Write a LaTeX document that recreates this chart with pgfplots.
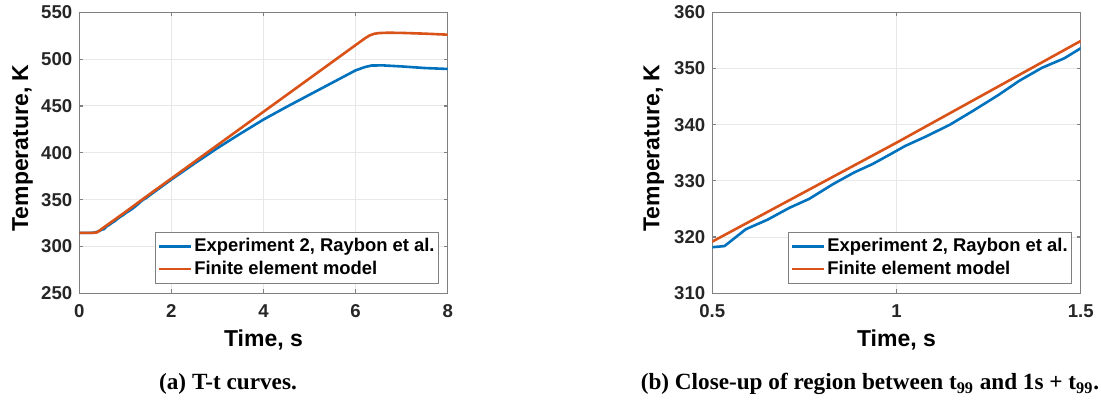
\documentclass[border=0pt]{standalone}
\usepackage{fontspec}
\setmainfont{Liberation Sans}
\newfontfamily\capfont{Liberation Serif}
\usepackage{pgfplots}
\usepackage{pgfplotstable}
\pgfplotsset{compat=1.18}

\definecolor{mblue}{RGB}{0,114,189}
\definecolor{morange}{RGB}{217,83,25}
\definecolor{axgray}{RGB}{128,128,128}
\definecolor{gridgray}{RGB}{232,232,232}
\definecolor{txt}{RGB}{38,38,38}

% experiment 2 (Raybon et al.)
\pgfplotstableread{
t T
0     314.5
0.25  314.5
0.32  314.8
0.40  315.8
0.46  317.2
0.50  318.2
0.533 318.4
0.591 321.4
0.650 323.1
0.709 325.2
0.763 326.8
0.827 329.4
0.885 331.5
0.935 333.0
0.985 334.8
1.023 336.2
1.080 337.9
1.145 340.0
1.211 342.6
1.277 345.3
1.333 347.8
1.394 350.1
1.455 351.8
1.500 353.6
2.0   371.5
2.5   388.5
3.0   405.0
3.5   420.5
4.0   435.5
4.5   449.0
5.0   462.0
5.5   475.0
6.0   488.0
6.2   491.5
6.35  493.2
6.6   493.3
7.0   492.2
7.5   490.5
8.0   489.5
}\expdata

% finite element model
\pgfplotstableread{
t T
0     314.5
0.30  314.5
0.38  315.0
0.45  317.3
0.50  319.2
1.0   336.8
1.5   354.9
2.0   372.6
3.0   408.2
4.0   443.8
5.0   479.4
6.0   515.0
6.2   522.1
6.3   525.2
6.4   527.0
6.5   527.8
6.7   528.2
7.0   528.0
7.5   527.2
8.0   526.1
}\femdata

\pgfplotsset{
  mstyle/.style={
    scale only axis,
    width=184.2pt,
    height=140.5pt,
    axis line style={axgray, line width=0.6pt},
    grid=major,
    grid style={gridgray, line width=0.5pt},
    tick style={axgray, line width=0.6pt},
    major tick length=2pt,
    tick align=inside,
    /pgf/number format/assume math mode=true,
    tick label style={font=\fontsize{9.3}{11}\selectfont\bfseries, text=txt},
    xticklabel style={yshift=-2pt},
    label style={font=\fontsize{11.5}{13}\selectfont\bfseries, text=black},
    xlabel style={at={(axis description cs:0.5,-0.166)}, anchor=center},
    xlabel={Time, s},
    ylabel={Temperature, K},
    legend cell align=left,
    legend style={at={(0.977,0.034)}, anchor=south east, draw=axgray, line width=0.6pt, fill=white,
      font=\fontsize{9.2}{11}\selectfont\bfseries, text=black,
      inner xsep=1pt, inner ysep=1.5pt, row sep=0pt,
      nodes={inner ysep=1.5pt, inner xsep=1pt}},
    legend image code/.code={\draw[#1, line width=1.3pt] (0pt,0pt) -- (16pt,0pt);},
    every axis plot/.append style={line width=1.3pt},
  }
}

\begin{document}
\begin{tikzpicture}
\path[use as bounding box] (0pt,0pt) rectangle (550.5pt,205pt);

\begin{axis}[mstyle,
  at={(39.65pt,58.35pt)}, anchor=south west,
  xmin=0, xmax=8, ymin=250, ymax=550,
  xtick={0,2,4,6,8}, ytick={250,300,...,550},
  ylabel style={at={(axis description cs:-0.154,0.517)}, anchor=center},
]
\addplot[mblue] table[x=t, y=T] {\expdata};
\addlegendentry{Experiment 2, Raybon et al.}
\addplot[morange] table[x=t, y=T] {\femdata};
\addlegendentry{Finite element model}
\end{axis}

\begin{axis}[mstyle,
  at={(356.15pt,58.35pt)}, anchor=south west,
  xmin=0.5, xmax=1.5, ymin=310, ymax=360,
  xtick={0.5,1,1.5}, ytick={310,320,...,360},
  ylabel style={at={(axis description cs:-0.159,0.517)}, anchor=center},
]
\addplot[mblue] table[x=t, y=T] {\expdata};
\addlegendentry{Experiment 2, Raybon et al.}
\addplot[morange] table[x=t, y=T] {\femdata};
\addlegendentry{Finite element model}
\end{axis}

\node[anchor=base, font=\capfont\fontsize{11.6}{13}\selectfont\bfseries] at (114pt,10pt) {(a) T-t curves.};
\node[anchor=base, font=\capfont\fontsize{11.6}{13}\selectfont\bfseries] at (435pt,10pt) {(b) Close-up of region between t\textsubscript{99} and 1s + t\textsubscript{99}.};
\end{tikzpicture}
\end{document}
